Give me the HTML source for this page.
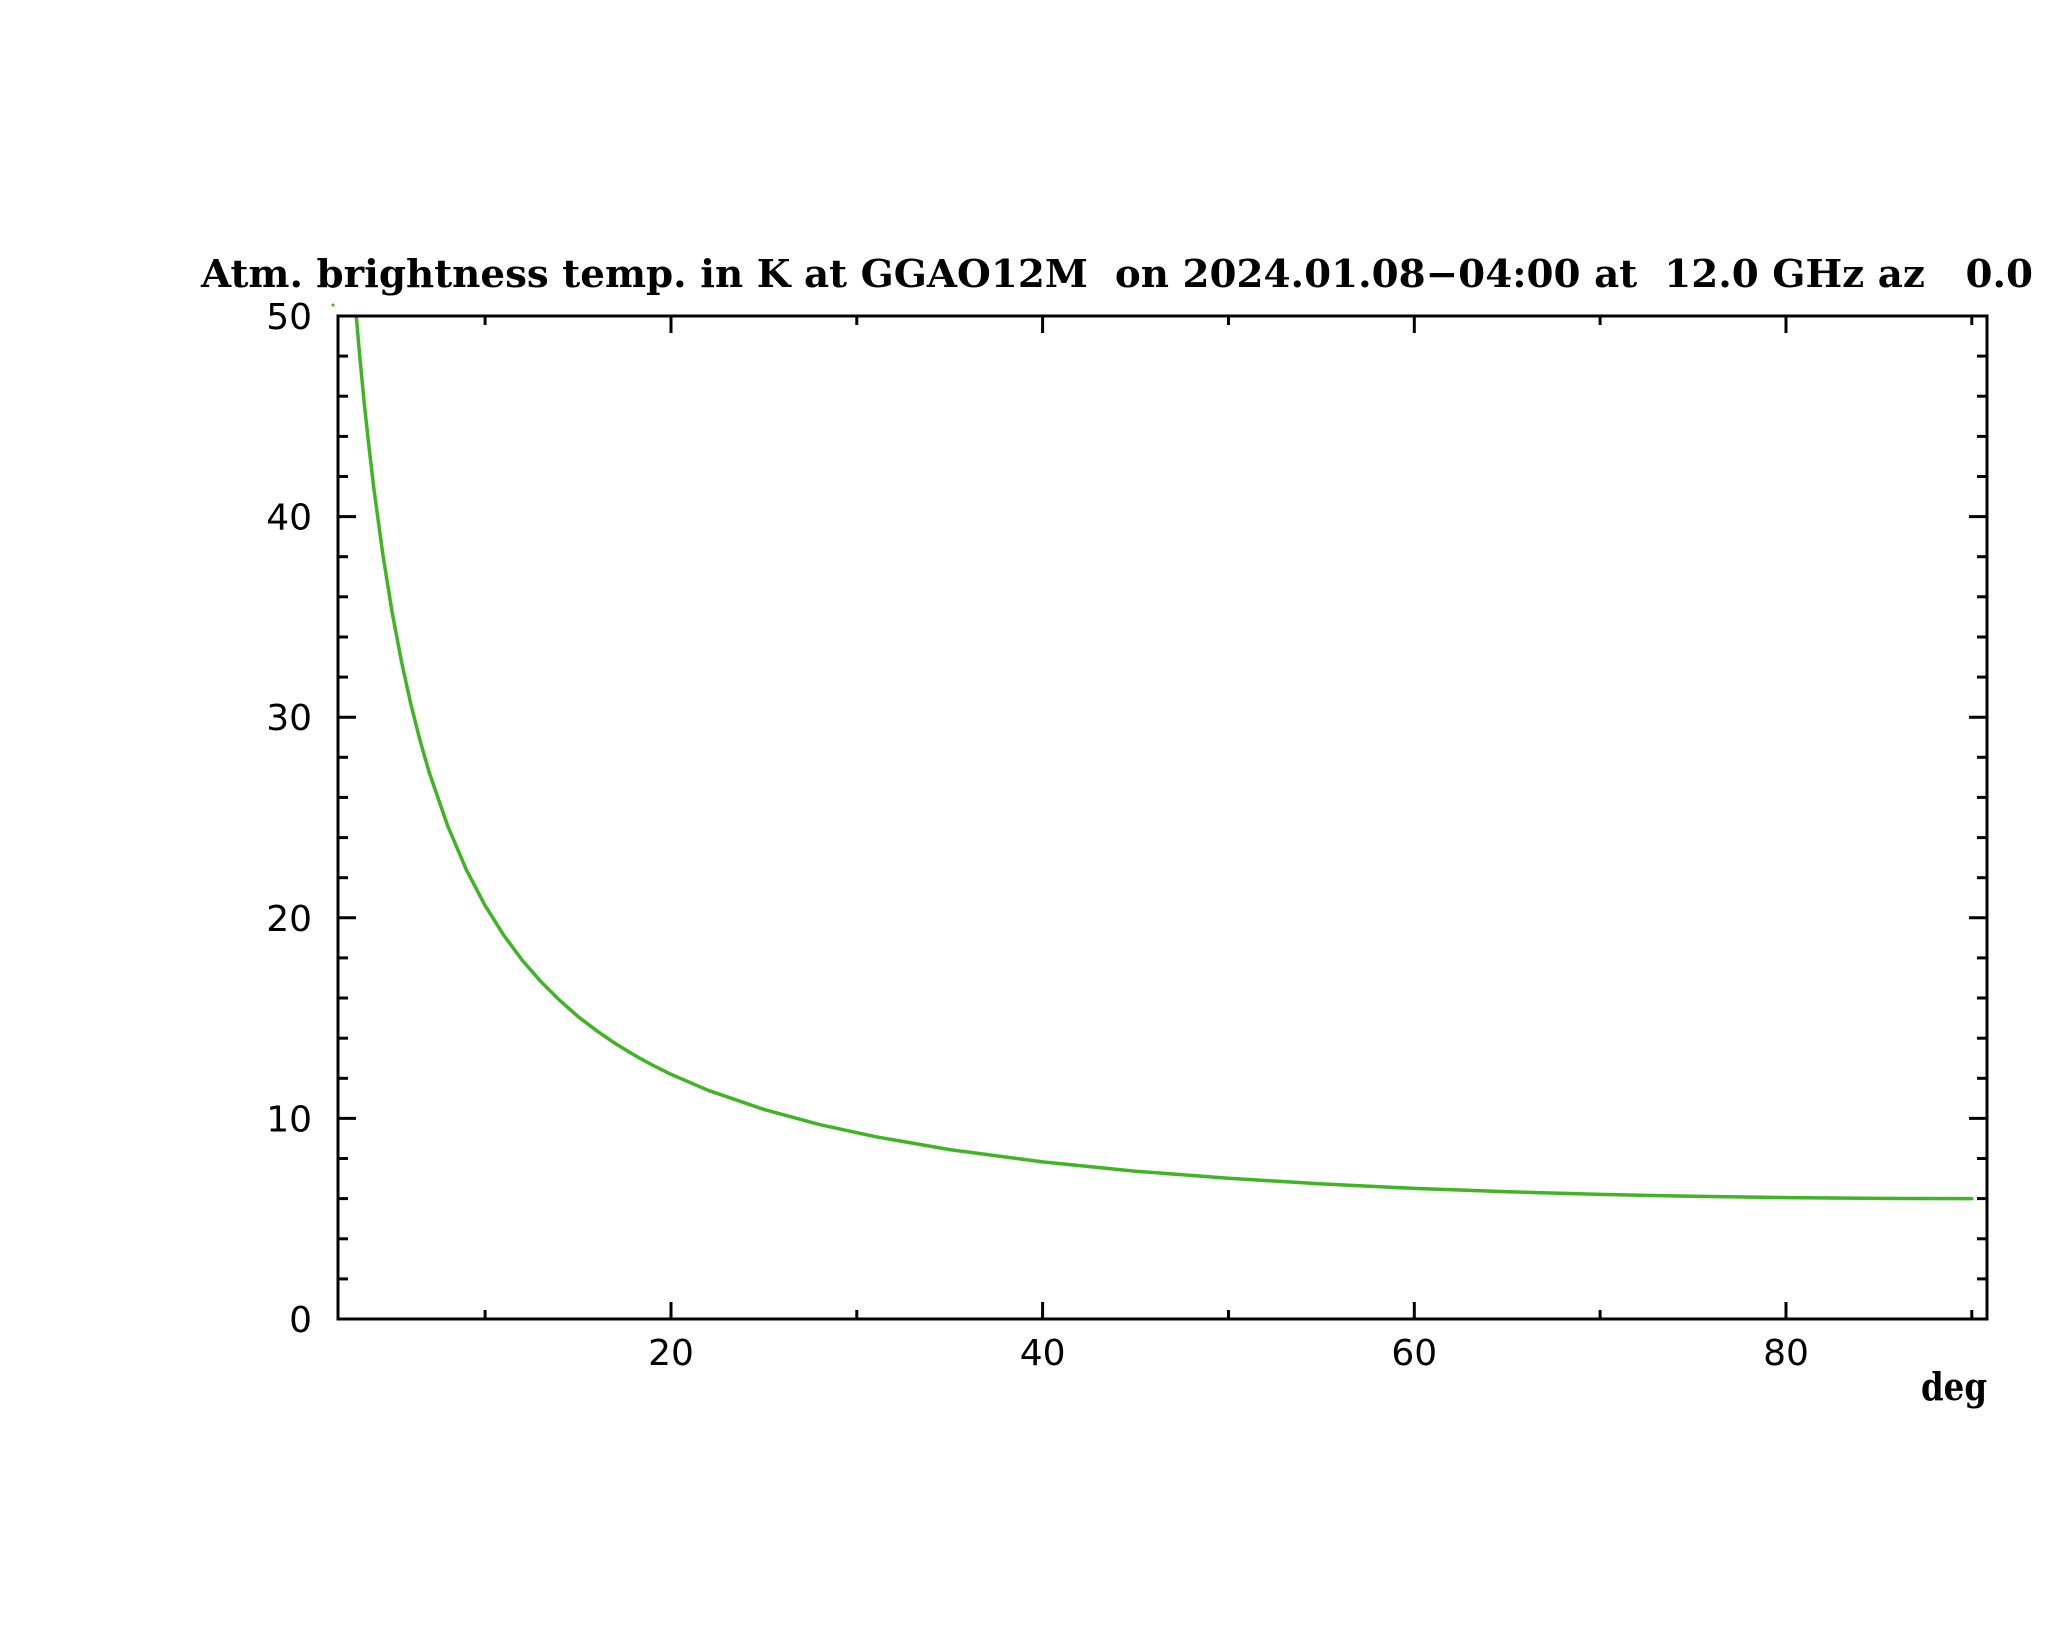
<!DOCTYPE html>
<html>
<head>
<meta charset="utf-8">
<style>
  html, body { margin: 0; padding: 0; background: #ffffff; }
  body { width: 2048px; height: 1635px; overflow: hidden; }
  svg { display: block; }
  .ttl { font-family: "DejaVu Serif", "Liberation Serif", serif; font-size: 38px; font-weight: bold; fill: #000; }
  .lbl { font-family: "DejaVu Sans", "Liberation Sans", sans-serif; font-size: 36px; fill: #000; }
</style>
</head>
<body>
<svg width="2048" height="1635" viewBox="0 0 2048 1635" xmlns="http://www.w3.org/2000/svg">
  <rect x="0" y="0" width="2048" height="1635" fill="#ffffff"/>

  <!-- Title -->
  <text class="ttl" x="201" y="287" textLength="1832" lengthAdjust="spacingAndGlyphs" xml:space="preserve">Atm. brightness temp. in K at GGAO12M  on 2024.01.08−04:00 at  12.0 GHz az   0.0</text>

  <defs>
    <clipPath id="plotclip">
      <rect x="338" y="316" width="1649" height="1003"/>
    </clipPath>
  </defs>

  <!-- Curve -->
  <polyline clip-path="url(#plotclip)" fill="none" stroke="#3fb524" stroke-width="3.5" stroke-linejoin="round" stroke-linecap="round"
    points="353.2,279.1 355.05,302.4 359.7,355.7 364.3,403.9 369.0,447.0 373.6,486.5 382.9,554.9 392.2,612.7 401.5,661.6 410.8,704.0 420.1,740.7 429.4,773.0 448.0,826.7 466.5,870.1 485.1,905.6 503.7,935.2 522.3,960.3 540.9,981.6 559.5,1000.2 578.0,1016.5 596.6,1030.7 615.2,1043.5 633.8,1054.8 652.4,1065.1 671.0,1074.3 708.1,1090.3 763.9,1109.4 819.6,1124.6 875.4,1136.7 949.7,1149.6 1042.6,1161.9 1135.5,1171.2 1228.5,1178.3 1321.4,1183.9 1414.3,1188.4 1507.2,1191.7 1600.1,1194.4 1693.0,1196.3 1786.0,1197.6 1878.9,1198.4 1971.8,1198.6"/>
  <!-- stray dot -->
  <circle cx="333" cy="305" r="1.5" fill="#3fb524"/>

  <!-- Axes frame -->
  <rect x="338" y="316" width="1649" height="1003" fill="none" stroke="#000" stroke-width="3"/>

  <!-- Y ticks (left and right) -->
  <g stroke="#000" stroke-width="3">
    <line x1="338" y1="1319" x2="356" y2="1319"/><line x1="1987" y1="1319" x2="1969" y2="1319"/>
    <line x1="338" y1="1118.4" x2="356" y2="1118.4"/><line x1="1987" y1="1118.4" x2="1969" y2="1118.4"/>
    <line x1="338" y1="917.8" x2="356" y2="917.8"/><line x1="1987" y1="917.8" x2="1969" y2="917.8"/>
    <line x1="338" y1="717.2" x2="356" y2="717.2"/><line x1="1987" y1="717.2" x2="1969" y2="717.2"/>
    <line x1="338" y1="516.6" x2="356" y2="516.6"/><line x1="1987" y1="516.6" x2="1969" y2="516.6"/>
    <line x1="338" y1="1278.9" x2="348" y2="1278.9"/><line x1="1987" y1="1278.9" x2="1977" y2="1278.9"/>
    <line x1="338" y1="1238.8" x2="348" y2="1238.8"/><line x1="1987" y1="1238.8" x2="1977" y2="1238.8"/>
    <line x1="338" y1="1198.6" x2="348" y2="1198.6"/><line x1="1987" y1="1198.6" x2="1977" y2="1198.6"/>
    <line x1="338" y1="1158.5" x2="348" y2="1158.5"/><line x1="1987" y1="1158.5" x2="1977" y2="1158.5"/>
    <line x1="338" y1="1078.3" x2="348" y2="1078.3"/><line x1="1987" y1="1078.3" x2="1977" y2="1078.3"/>
    <line x1="338" y1="1038.2" x2="348" y2="1038.2"/><line x1="1987" y1="1038.2" x2="1977" y2="1038.2"/>
    <line x1="338" y1="998.0" x2="348" y2="998.0"/><line x1="1987" y1="998.0" x2="1977" y2="998.0"/>
    <line x1="338" y1="957.9" x2="348" y2="957.9"/><line x1="1987" y1="957.9" x2="1977" y2="957.9"/>
    <line x1="338" y1="877.7" x2="348" y2="877.7"/><line x1="1987" y1="877.7" x2="1977" y2="877.7"/>
    <line x1="338" y1="837.6" x2="348" y2="837.6"/><line x1="1987" y1="837.6" x2="1977" y2="837.6"/>
    <line x1="338" y1="797.4" x2="348" y2="797.4"/><line x1="1987" y1="797.4" x2="1977" y2="797.4"/>
    <line x1="338" y1="757.3" x2="348" y2="757.3"/><line x1="1987" y1="757.3" x2="1977" y2="757.3"/>
    <line x1="338" y1="677.1" x2="348" y2="677.1"/><line x1="1987" y1="677.1" x2="1977" y2="677.1"/>
    <line x1="338" y1="637.0" x2="348" y2="637.0"/><line x1="1987" y1="637.0" x2="1977" y2="637.0"/>
    <line x1="338" y1="596.8" x2="348" y2="596.8"/><line x1="1987" y1="596.8" x2="1977" y2="596.8"/>
    <line x1="338" y1="556.7" x2="348" y2="556.7"/><line x1="1987" y1="556.7" x2="1977" y2="556.7"/>
    <line x1="338" y1="476.5" x2="348" y2="476.5"/><line x1="1987" y1="476.5" x2="1977" y2="476.5"/>
    <line x1="338" y1="436.4" x2="348" y2="436.4"/><line x1="1987" y1="436.4" x2="1977" y2="436.4"/>
    <line x1="338" y1="396.2" x2="348" y2="396.2"/><line x1="1987" y1="396.2" x2="1977" y2="396.2"/>
    <line x1="338" y1="356.1" x2="348" y2="356.1"/><line x1="1987" y1="356.1" x2="1977" y2="356.1"/>
  </g>

  <!-- X ticks (bottom and top) -->
  <g stroke="#000" stroke-width="3">
    <line x1="485.1" y1="1319" x2="485.1" y2="1310"/><line x1="485.1" y1="316" x2="485.1" y2="325"/>
    <line x1="671.0" y1="1319" x2="671.0" y2="1302"/><line x1="671.0" y1="316" x2="671.0" y2="333"/>
    <line x1="856.8" y1="1319" x2="856.8" y2="1310"/><line x1="856.8" y1="316" x2="856.8" y2="325"/>
    <line x1="1042.6" y1="1319" x2="1042.6" y2="1302"/><line x1="1042.6" y1="316" x2="1042.6" y2="333"/>
    <line x1="1228.5" y1="1319" x2="1228.5" y2="1310"/><line x1="1228.5" y1="316" x2="1228.5" y2="325"/>
    <line x1="1414.3" y1="1319" x2="1414.3" y2="1302"/><line x1="1414.3" y1="316" x2="1414.3" y2="333"/>
    <line x1="1600.1" y1="1319" x2="1600.1" y2="1310"/><line x1="1600.1" y1="316" x2="1600.1" y2="325"/>
    <line x1="1786.0" y1="1319" x2="1786.0" y2="1302"/><line x1="1786.0" y1="316" x2="1786.0" y2="333"/>
    <line x1="1971.8" y1="1319" x2="1971.8" y2="1310"/><line x1="1971.8" y1="316" x2="1971.8" y2="325"/>
  </g>

  <!-- Y labels -->
  <g class="lbl" text-anchor="end">
    <text x="312" y="1332">0</text>
    <text x="312" y="1131.4">10</text>
    <text x="312" y="930.8">20</text>
    <text x="312" y="730.2">30</text>
    <text x="312" y="529.6">40</text>
    <text x="312" y="329">50</text>
  </g>

  <!-- X labels -->
  <g class="lbl" text-anchor="middle">
    <text x="671.0" y="1365">20</text>
    <text x="1042.6" y="1365">40</text>
    <text x="1414.3" y="1365">60</text>
    <text x="1786.0" y="1365">80</text>
  </g>

  <!-- X unit -->
  <text class="ttl" x="1987" y="1400" text-anchor="end" textLength="66" lengthAdjust="spacingAndGlyphs">deg</text>
</svg>
</body>
</html>
